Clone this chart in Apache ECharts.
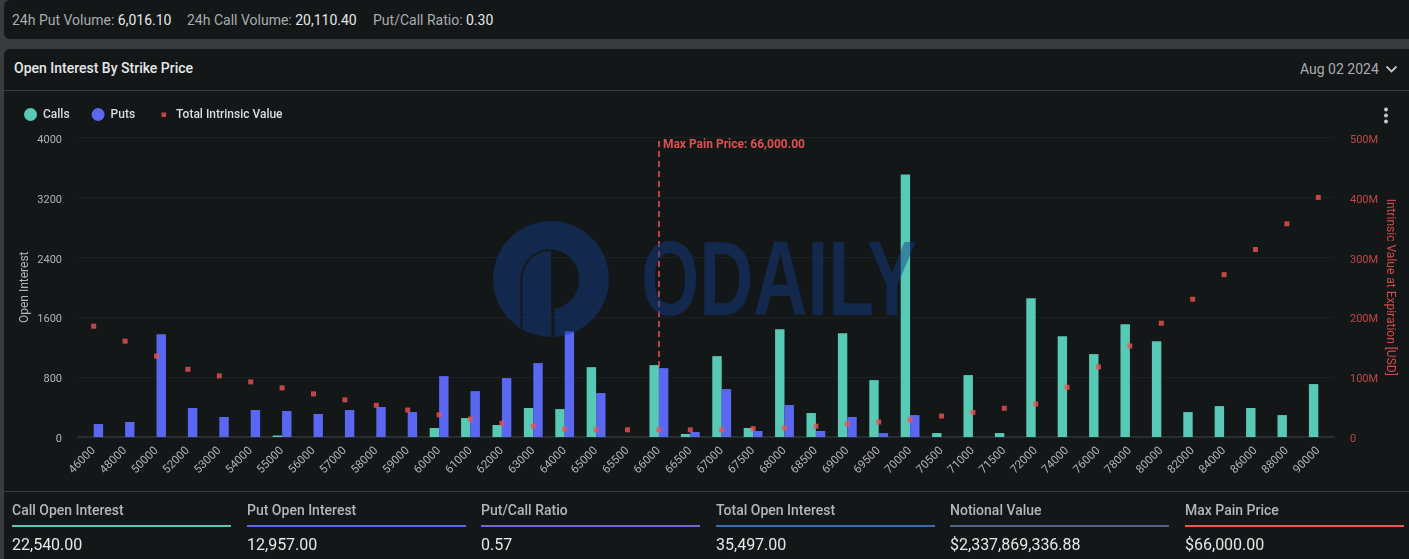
<!DOCTYPE html>
<html>
<head>
<meta charset="utf-8">
<script src="https://cdn.jsdelivr.net/npm/echarts@6/dist/echarts.min.js"></script>
<style>
    html, body { margin: 0; padding: 0; width: 1409px; height: 559px; overflow: hidden; background: #3a3b3d; font-family: Roboto, sans-serif; }
    .card { position: absolute; left: 4px; width: 1405px; background: #131718; border-radius: 6px 0 0 6px; }
    #topbar { top: 0; height: 39px; }
    #panel { top: 49px; height: 510px; border-radius: 6px 0 0 0; }
    .txt { position: absolute; white-space: nowrap; }
    .muted { color: #a9acae; }
    .bright { color: #e6e7e8; }
    #chart { position: absolute; left: 0; top: 92px; width: 1409px; height: 398px; }
    #watermark { position: absolute; left: 0; top: 0; pointer-events: none; }
    .rule { position: absolute; left: 4px; width: 1405px; height: 1px; background: #3a3d3f; }
    .stat { position: absolute; top: 502px; width: 219px; }
    .stat .t { font-size: 14px; font-weight: 500; color: #b4b7b9; line-height: 17px; }
    .stat .l { height: 2px; margin-top: 5.5px; }
    .stat .v { font-size: 16px; color: #e6e7e8; line-height: 19px; margin-top: 8px; }
</style>
</head>
<body>
<div class="card" id="topbar"></div>
<div class="card" id="panel"></div>

<div class="txt muted" style="left:12px;top:12px;font-size:14px;line-height:17px">24h Put Volume: <span class="bright">6,016.10</span></div>
<div class="txt muted" style="left:187px;top:12px;font-size:14px;line-height:17px">24h Call Volume: <span class="bright">20,110.40</span></div>
<div class="txt muted" style="left:373px;top:12px;font-size:14px;line-height:17px">Put/Call Ratio: <span class="bright">0.30</span></div>

<div class="txt" style="left:14px;top:60px;font-size:14px;line-height:17px;font-weight:500;color:#e6e7e8">Open Interest By Strike Price</div>
<div class="txt muted" style="left:1300px;top:61px;font-size:14px;line-height:17px">Aug 02 2024</div>
<svg style="position:absolute;left:1385px;top:65px" width="13" height="9"><path d="M1.5 1.5 L6.5 6.5 L11.5 1.5" fill="none" stroke="#c4c6c8" stroke-width="1.8"/></svg>
<div class="rule" style="top:90px"></div>

<div id="chart"></div>

<svg id="watermark" width="1409" height="559">
    <g fill="#123a86" fill-opacity="0.48">
        <path fill-rule="evenodd" d="M551 221a58 58 0 1 0 0.01 0Z M551 249.5A30 30 0 0 1 554.5 309V336.5H551.5Z M550.5 249A30 30 0 0 0 520.5 279V328H522.5V279A28 28 0 0 1 550.5 250.8Z"/>
        <text x="641" y="315" font-family="Liberation Sans Narrow, Liberation Sans, sans-serif" font-weight="700" font-size="106" textLength="276" lengthAdjust="spacingAndGlyphs">ODAILY</text>
    </g>
</svg>

<svg style="position:absolute;left:1383px;top:107px" width="6" height="17"><circle cx="3" cy="2.5" r="2" fill="#c4c6c8"/><circle cx="3" cy="8.5" r="2" fill="#c4c6c8"/><circle cx="3" cy="14.5" r="2" fill="#c4c6c8"/></svg>

<div class="rule" style="top:491px"></div>

<div class="stat" style="left:12px"><div class="t">Call Open Interest</div><div class="l" style="background:#5ac8b4"></div><div class="v">22,540.00</div></div>
<div class="stat" style="left:247px"><div class="t">Put Open Interest</div><div class="l" style="background:#5a67f0"></div><div class="v">12,957.00</div></div>
<div class="stat" style="left:481px"><div class="t">Put/Call Ratio</div><div class="l" style="background:#7466cc"></div><div class="v">0.57</div></div>
<div class="stat" style="left:716px"><div class="t">Total Open Interest</div><div class="l" style="background:#3a6cb2"></div><div class="v">35,497.00</div></div>
<div class="stat" style="left:950px"><div class="t">Notional Value</div><div class="l" style="background:#4f6488"></div><div class="v">$2,337,869,336.88</div></div>
<div class="stat" style="left:1185px"><div class="t">Max Pain Price</div><div class="l" style="background:#ea5455"></div><div class="v">$66,000.00</div></div>

<script>
var strikes = ['46000', '48000', '50000', '52000', '53000', '54000', '55000', '56000', '57000', '58000', '59000', '60000', '61000', '62000', '63000', '64000', '65000', '65500', '66000', '66500', '67000', '67500', '68000', '68500', '69000', '69500', '70000', '70500', '71000', '71500', '72000', '74000', '76000', '78000', '80000', '82000', '84000', '86000', '88000', '90000'];
var calls = [0, 0, 0, 0, 0, 0, 20, 0, 0, 0, 0, 120, 253, 160, 387, 373, 933, 0, 960, 40, 1080, 120, 1440, 320, 1387, 760, 3507, 53, 827, 53, 1853, 1347, 1107, 1507, 1280, 333, 413, 387, 293, 707];
var puts = [173, 200, 1373, 387, 267, 360, 347, 307, 360, 400, 333, 813, 613, 787, 987, 1413, 587, 0, 920, 67, 640, 80, 427, 80, 267, 53, 293, 0, 0, 0, 0, 0, 0, 0, 0, 0, 0, 0, 0, 0];
// Total intrinsic value, USD millions
var intrinsic = [185, 160, 135, 113, 102, 92, 82, 72, 62, 53, 45, 37, 30, 23, 18, 13, 12, 12, 12, 12, 12, 14, 15, 18, 22, 25, 29, 35, 41, 48, 55, 83, 117, 152, 190, 230, 271, 313, 356, 400];
var maxPainStrike = '66000';

var dom = document.getElementById('chart');
var myChart = echarts.init(dom);
var fontFamily = 'Roboto, sans-serif';
var maxPainLine = { color: '#ef5350', type: [6, 4], width: 1.5, opacity: 1 };

var option = {
    animation: false,
    backgroundColor: 'transparent',
    textStyle: { fontFamily: fontFamily },
    legend: {
        left: 24,
        top: 16,
        padding: 0,
        itemWidth: 13,
        itemHeight: 13,
        itemGap: 22,
        textStyle: { color: '#dcdddf', fontSize: 12, fontWeight: 500, fontFamily: fontFamily, padding: [0, 0, 0, 1] },
        data: [
            { name: 'Calls', icon: 'circle' },
            { name: 'Puts', icon: 'circle' },
            { name: 'Total Intrinsic Value', icon: 'path://M0 0M13 13M4.5 4.5H9V9H4.5Z' }
        ]
    },
    grid: { left: 78, right: 75, top: 45.5, bottom: 53, outerBoundsMode: 'none' },
    xAxis: {
        type: 'category',
        data: strikes,
        axisLine: { lineStyle: { color: '#2b2e30', width: 2 } },
        axisTick: { show: false },
        axisLabel: { color: '#b0b3b5', fontSize: 11.5, rotate: 45, interval: 0, margin: 12 }
    },
    yAxis: [
        {
            type: 'value',
            min: 0,
            max: 4000,
            interval: 800,
            name: 'Open Interest',
            nameLocation: 'middle',
            nameGap: 47,
            nameMoveOverlap: false,
            nameTextStyle: { color: '#b4b7b9', fontSize: 12 },
            axisLabel: {
                margin: 16,
                formatter: function (value) {
                    return '{v|' + value + '}';
                },
                rich: { v: { color: '#b0b3b5', fontSize: 11, padding: [5, 0, 0, 0] } }
            },
            splitLine: { lineStyle: { color: '#1c2022' } }
        },
        {
            type: 'value',
            min: 0,
            max: 500,
            interval: 100,
            name: 'Intrinsic Value at Expiration [USD]',
            nameLocation: 'middle',
            nameGap: 50,
            nameMoveOverlap: false,
            nameRotate: -90,
            nameTextStyle: { color: '#d24a4a', fontSize: 12 },
            axisLabel: {
                margin: 16,
                formatter: function (value) {
                    return '{v|' + (value === 0 ? '0' : value + 'M') + '}';
                },
                rich: { v: { color: '#c04646', fontSize: 11, padding: [5, 0, 0, 0] } }
            },
            splitLine: { show: false }
        }
    ],
    series: [
        {
            name: 'Calls',
            type: 'bar',
            data: calls,
            barWidth: '30%',
            barGap: 0,
            z: 3,
            itemStyle: { color: '#58c9b4' }
        },
        {
            name: 'Puts',
            type: 'bar',
            data: puts,
            barWidth: '30%',
            barGap: 0,
            z: 3,
            itemStyle: { color: '#5a67f0' }
        },
        {
            name: 'Total Intrinsic Value',
            type: 'scatter',
            yAxisIndex: 1,
            data: intrinsic,
            symbol: 'rect',
            symbolSize: 5,
            z: 5,
            itemStyle: { color: '#f05252' },
            markLine: {
                silent: true,
                symbol: 'none',
                z: 1,
                lineStyle: maxPainLine,
                label: {
                    show: true,
                    position: 'end',
                    formatter: 'Max Pain Price: 66,000.00',
                    color: '#e04f4f',
                    fontSize: 12,
                    fontWeight: 'bold',
                    align: 'left',
                    verticalAlign: 'top',
                    offset: [4, 6]
                },
                data: [{ xAxis: maxPainStrike, lineStyle: maxPainLine }]
            }
        }
    ]
};
myChart.setOption(option);
</script>
</body>
</html>
